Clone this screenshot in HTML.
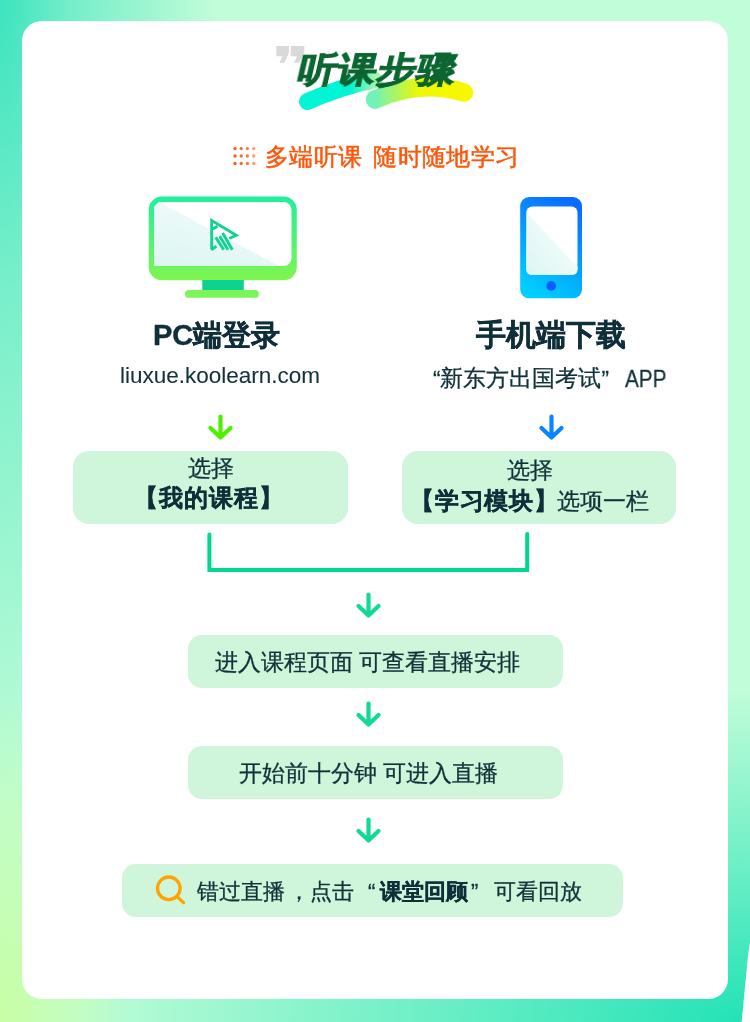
<!DOCTYPE html>
<html><head><meta charset="utf-8">
<style>
*{margin:0;padding:0;box-sizing:border-box}
html,body{width:750px;height:1022px;overflow:hidden}
body{position:relative;font-family:"Liberation Sans",sans-serif;color:#0f2f3a;-webkit-font-smoothing:antialiased;
background:
 radial-gradient(ellipse 130px 330px at 0 100%,#c8fea4,rgba(200,254,164,0)),
 radial-gradient(ellipse 215px 820px at 0 0,#3de3bf,rgba(61,227,191,.55) 35%,rgba(61,227,191,0)),
 radial-gradient(ellipse 680px 330px at 100% 100%,#22e2b6,rgba(34,226,182,0)),
 #c0fdd8;}
.abs{position:absolute}
.card{position:absolute;left:22px;top:21px;width:706px;height:978px;background:#fff;border-radius:20px}
.t{position:absolute;white-space:nowrap;line-height:1;text-spacing-trim:space-all;will-change:transform}
.q{display:inline-block;text-align:right}
.qc{display:inline-block;text-align:left}
.box{position:absolute;background:#cff5db;border-radius:16px}
</style></head><body>
<div class="card"></div>

<!-- title -->
<svg class="abs" style="left:0;top:0" width="750" height="130">
 <defs>
  <linearGradient id="g1" x1="0" y1="0" x2="1" y2="0">
   <stop offset="0" stop-color="#00f6d6"/><stop offset="0.65" stop-color="#00f4d2"/><stop offset="1" stop-color="#a0f5b0"/>
  </linearGradient>
  <linearGradient id="g2" x1="0" y1="0" x2="1" y2="0">
   <stop offset="0" stop-color="#70f2b8"/><stop offset="0.5" stop-color="#eef800"/><stop offset="1" stop-color="#f8f800"/>
  </linearGradient>
 </defs>
 <path d="M307.5 101.5 Q340 87 374 80" stroke="url(#g1)" stroke-width="17" stroke-linecap="round" fill="none"/>
 <path d="M375 99.5 Q420 79 464 92.5" stroke="url(#g2)" stroke-width="18.5" stroke-linecap="round" fill="none"/>
</svg>
<svg class="abs" style="left:0;top:0" width="320" height="70"><g fill="#d9d9d9">
 <path d="M276.3 46 L289 46 L289 52.5 L284.5 62.7 L279.5 62.7 L282.5 56.3 L276.3 56.3 Z"/>
 <path d="M290.7 46 L304.3 46 L304.3 52.5 L299 62.7 L294 62.7 L297 56.3 L290.7 56.3 Z"/>
</g></svg>
<div class="t" style="left:294.5px;top:47px;font-size:40px;font-weight:bold;background:linear-gradient(#0e8342,#0a5727);-webkit-background-clip:text;background-clip:text;-webkit-text-fill-color:transparent;-webkit-text-stroke:1.1px #0b6530;transform:skewX(-13deg) scale(0.965,0.875);transform-origin:0 100%;letter-spacing:1px">听课步骤</div>

<!-- subtitle -->
<svg class="abs" style="left:228px;top:140px" width="32" height="30">
 <g fill="#ff5a14"><circle cx="7" cy="8.6" r="1.65"/><circle cx="7" cy="16" r="1.65"/><circle cx="7" cy="23.5" r="1.65"/></g>
 <g fill="#ff6a24"><circle cx="13.2" cy="8.6" r="1.65"/><circle cx="13.2" cy="16" r="1.65"/><circle cx="13.2" cy="23.5" r="1.65"/></g>
 <g fill="#ff7a40"><circle cx="19.4" cy="8.6" r="1.65"/><circle cx="19.4" cy="16" r="1.65"/><circle cx="19.4" cy="23.5" r="1.65"/></g>
 <g fill="#ff9a70"><circle cx="25.8" cy="8.6" r="1.65"/><circle cx="25.8" cy="16" r="1.65"/><circle cx="25.8" cy="23.5" r="1.65"/></g>
</svg>
<div class="t" style="left:265px;top:144.5px;font-size:24px;letter-spacing:0.4px;word-spacing:3.5px;color:#ff560a;-webkit-text-stroke:0.5px #ff560a">多端听课&nbsp;随时随地学习</div>

<!-- monitor -->
<svg class="abs" style="left:140px;top:190px" width="170" height="115">
 <defs>
  <linearGradient id="mg" x1="0" y1="0" x2="0" y2="1"><stop offset="0" stop-color="#1ef09c"/><stop offset="1" stop-color="#80f550"/></linearGradient>
  <linearGradient id="sg" x1="0" y1="1" x2="0.5" y2="0"><stop offset="0" stop-color="#dcf6f2"/><stop offset="1" stop-color="#f0fbfa"/></linearGradient>
 </defs>
 <rect x="8.8" y="6.6" width="148" height="83.6" rx="13" fill="url(#mg)"/>
 <rect x="14" y="12" width="137.5" height="64" rx="8" fill="#fff"/>
 <path d="M19 12 L139 76 L14 76 L14 17 Z" fill="url(#sg)"/>
 <rect x="62.3" y="90" width="41.5" height="10" fill="#0fd190"/>
 <rect x="45" y="100" width="73.8" height="7.8" rx="3.9" fill="#7af55a"/>
 <g stroke="#12d192" stroke-width="2.9" fill="none" stroke-linejoin="miter" stroke-linecap="butt">
  <path d="M71.7 59.5 V30.5 L96.3 45.3 L89.3 48.5"/>
  <path d="M71.7 39.6 L77.5 36.2"/>
  <path d="M71.3 59.8 L76.5 56.2"/>
  <path d="M75.7 47.3 L83.7 59.7 M79.7 46.3 L88 59.7 M82.7 43 L92.3 59.7"/>
 </g>
</svg>

<!-- phone -->
<svg class="abs" style="left:505px;top:190px" width="95" height="115">
 <defs>
  <linearGradient id="pg" x1="0.7" y1="0" x2="0.3" y2="1"><stop offset="0" stop-color="#0a6cff"/><stop offset="1" stop-color="#00d0ff"/></linearGradient>
 </defs>
 <rect x="15.2" y="7" width="61.8" height="101.3" rx="9" fill="url(#pg)"/>
 <rect x="21.3" y="16.5" width="51.2" height="68.4" rx="6" fill="#fff"/>
 <defs><linearGradient id="ptg" x1="0" y1="1" x2="0.6" y2="0.4"><stop offset="0" stop-color="#dcf6f2"/><stop offset="1" stop-color="#eefbf9"/></linearGradient></defs>
 <path d="M22 23 L72.5 77 L72.5 79 Q72.5 84.9 66.5 84.9 L27.3 84.9 Q21.3 84.9 21.3 78.9 Z" fill="url(#ptg)"/>
 <circle cx="46.2" cy="95.9" r="4.8" fill="#0a5cff"/>
</svg>

<!-- headings -->
<div class="t" style="left:153px;top:321px;font-size:29px;font-weight:bold;-webkit-text-stroke:0.4px #0f2f3a">PC端登录</div>
<div class="t" style="left:120px;top:365px;font-size:22.5px;color:#12323a;-webkit-text-stroke:0.1px #12323a">liuxue.koolearn.com</div>
<div class="t" style="left:476px;top:320px;font-size:29.5px;font-weight:bold;-webkit-text-stroke:0.4px #0f2f3a">手机端下载</div>
<div class="t" style="left:433px;top:368px;font-size:22.5px;color:#12323a;-webkit-text-stroke:0.3px #12323a">“新东方出国考试”</div>
<div class="t" style="left:624.5px;top:367.5px;font-size:23px;color:#12323a;-webkit-text-stroke:0.3px #12323a;transform:scaleX(0.9);transform-origin:0 0">APP</div>

<!-- arrows + connectors -->
<svg class="abs" style="left:0;top:0" width="750" height="1022">
 <g fill="none" stroke-width="4.2" stroke-linecap="round" stroke-linejoin="round">
  <path d="M220.5 416.5 V436.0 M210.5 428.0 L220.5 437.5 L230.5 428.0" stroke="#4ef000"/>
  <path d="M551.5 416.5 V436.0 M541.5 428.0 L551.5 437.5 L561.5 428.0" stroke="#0a84ff"/>
  <path d="M368.5 594.5 V614.0 M358.5 606.0 L368.5 615.5 L378.5 606.0" stroke="#12d993"/>
  <path d="M368.5 703.5 V723.0 M358.5 715.0 L368.5 724.5 L378.5 715.0" stroke="#12d993"/>
  <path d="M368.5 819.5 V839.0 M358.5 831.0 L368.5 840.5 L378.5 831.0" stroke="#12d993"/>
 </g>
 <path d="M209.4 534.5 V570 H527.2 V534" fill="none" stroke="#00d890" stroke-width="4" stroke-linecap="round" stroke-linejoin="miter"/>
</svg>

<!-- boxes -->
<div class="box" style="left:73px;top:451px;width:275px;height:73px"></div>
<div class="t" style="left:188px;top:458px;font-size:22.5px;color:#12323a;-webkit-text-stroke:0.3px #12323a">选择</div>
<div class="t" style="left:134px;top:486px;font-size:24px;font-weight:bold;letter-spacing:1px;-webkit-text-stroke:0.3px #0f2f3a">【我的课程】</div>

<div class="box" style="left:402px;top:451px;width:274px;height:73px"></div>
<div class="t" style="left:507px;top:460px;font-size:22.5px;color:#12323a;-webkit-text-stroke:0.3px #12323a">选择</div>
<div class="t" style="left:409.5px;top:489px;font-size:24px;font-weight:bold;letter-spacing:0.8px;-webkit-text-stroke:0.3px #0f2f3a">【学习模块】</div><div class="t" style="left:557px;top:491px;font-size:22.5px;color:#12323a;-webkit-text-stroke:0.3px #12323a">选项一栏</div>

<div class="box" style="left:188px;top:635px;width:375px;height:53px;border-radius:14px"></div>
<div class="t" style="left:215px;top:651px;font-size:22.8px;color:#12323a;-webkit-text-stroke:0.3px #12323a">进入课程页面 可查看直播安排</div>

<div class="box" style="left:188px;top:746px;width:375px;height:53px;border-radius:14px"></div>
<div class="t" style="left:239px;top:762px;font-size:23px;color:#12323a;-webkit-text-stroke:0.3px #12323a">开始前十分钟 可进入直播</div>

<div class="box" style="left:122px;top:864px;width:501px;height:53px;border-radius:14px"></div>
<svg class="abs" style="left:150px;top:870px" width="40" height="40">
 <circle cx="18.8" cy="18.3" r="11.3" fill="none" stroke="#ffa300" stroke-width="3.3"/>
 <path d="M27 26.5 L33.5 32.6" stroke="#ffa300" stroke-width="3.3" stroke-linecap="round"/>
</svg>
<div class="t" style="left:196.5px;top:880.5px;font-size:21.8px;color:#12323a;-webkit-text-stroke:0.3px #12323a">错过直播</div>
<div class="t" style="left:287.5px;top:880.5px;font-size:21.8px;color:#12323a;-webkit-text-stroke:0.3px #12323a">，</div>
<div class="t" style="left:309.5px;top:880.5px;font-size:21.8px;color:#12323a;-webkit-text-stroke:0.3px #12323a">点击</div>
<div class="t" style="left:368px;top:880.5px;font-size:22px;color:#12323a;-webkit-text-stroke:0.3px #12323a">“</div>
<div class="t" style="left:380px;top:880.5px;font-size:22px;font-weight:bold;color:#0f2f3a;-webkit-text-stroke:0.3px #0f2f3a">课堂回顾</div>
<div class="t" style="left:471px;top:880.5px;font-size:22px;color:#12323a;-webkit-text-stroke:0.3px #12323a">”</div>
<div class="t" style="left:494px;top:880.5px;font-size:21.8px;color:#12323a;-webkit-text-stroke:0.3px #12323a">可看回放</div>

<svg class="abs" style="left:0;top:0" width="750" height="1022">
 <path d="M747.6 960 Q749 948 750 942 L750 1022 L741.6 1022 Z" fill="#fff"/>
</svg>
</body></html>
